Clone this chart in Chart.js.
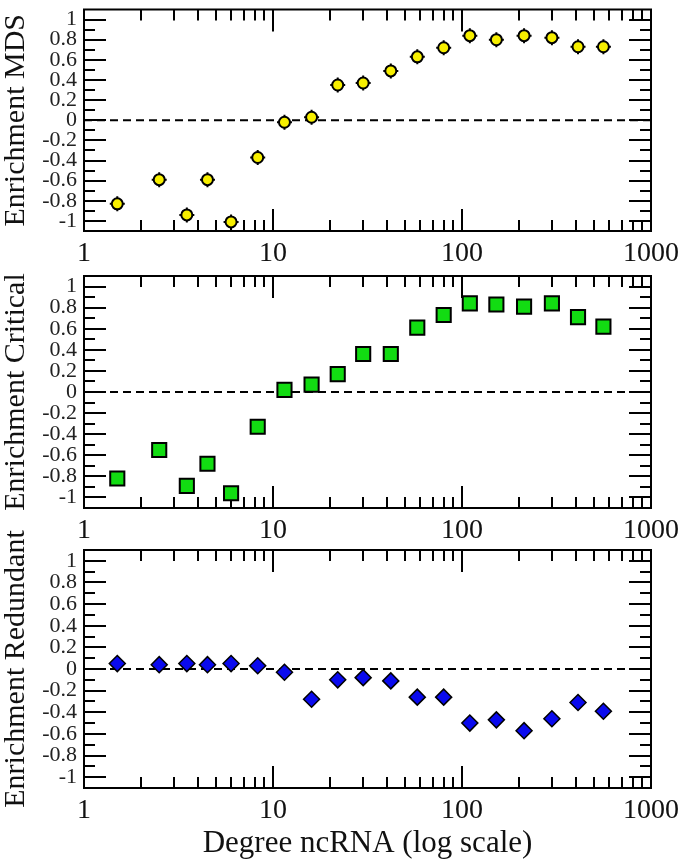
<!DOCTYPE html>
<html>
<head>
<meta charset="utf-8">
<script src="https://cdn.jsdelivr.net/npm/chart.js@4"></script>
<style>
  body { margin: 0; background: #fff; }
  #wrap { position: relative; width: 685px; height: 864px; }
  #wrap canvas { position: absolute; left: 0; top: 0; }
</style>
</head>
<body>
<div id="wrap">
  <canvas id="mds" width="685" height="864"></canvas>
  <canvas id="critical" width="685" height="864"></canvas>
  <canvas id="redundant" width="685" height="864"></canvas>
</div>
<script>
// degree bins (x, log scale) shared by the three panels
let degree = [1.5, 2.5, 3.5, 4.5, 6, 8.3, 11.5, 16, 22, 30, 42, 58, 80, 110, 152, 213, 299, 411, 560]
let mds = [-0.83, -0.59, -0.94, -0.59, -1.01, -0.37, -0.02, 0.03, 0.35, 0.37, 0.49, 0.63, 0.72, 0.84, 0.80, 0.84, 0.82, 0.73, 0.73]
let critical = [-0.82, -0.55, -0.89, -0.68, -0.96, -0.33, 0.02, 0.07, 0.17, 0.36, 0.36, 0.61, 0.73, 0.84, 0.83, 0.81, 0.84, 0.71, 0.62]
let redundant = [0.05, 0.04, 0.05, 0.04, 0.05, 0.03, -0.03, -0.28, -0.10, -0.08, -0.11, -0.26, -0.26, -0.50, -0.47, -0.57, -0.46, -0.31, -0.39]

let xTicks = [1, 10, 100, 1000]
let xMinor = [2, 3, 4, 5, 6, 7, 8, 9, 20, 30, 40, 50, 60, 70, 80, 90, 200, 300, 400, 500, 600, 700, 800, 900]
let yTicks = [-1, -0.8, -0.6, -0.4, -0.2, 0, 0.2, 0.4, 0.6, 0.8, 1]
let yMinor = [-0.9, -0.7, -0.5, -0.3, -0.1, 0.1, 0.3, 0.5, 0.7, 0.9]

const serif = 'Liberation Serif'

function toPoints(vals) {
    return vals.map((v, i) => ({x: degree[i], y: v}))
}

// frame + inward ticks on all four sides, like the xmgrace original
const frameTicks = {
    id: 'frameTicks',
    beforeDatasetsDraw(chart) {
        const {ctx, chartArea: a, scales: {x, y}} = chart
        ctx.save()
        ctx.strokeStyle = '#000'
        ctx.lineWidth = 2
        ctx.beginPath()
        const ytick = (v, len) => {
            const p = Math.round(y.getPixelForValue(v))
            ctx.moveTo(a.left, p); ctx.lineTo(a.left + len, p)
            ctx.moveTo(a.right, p); ctx.lineTo(a.right - len, p)
        }
        const xtick = (v, len) => {
            const p = Math.round(x.getPixelForValue(v))
            ctx.moveTo(p, a.top); ctx.lineTo(p, a.top + len)
            ctx.moveTo(p, a.bottom); ctx.lineTo(p, a.bottom - len)
        }
        yTicks.forEach(v => ytick(v, 22))
        yMinor.forEach(v => ytick(v, 11))
        xTicks.forEach(v => xtick(v, 22))
        xMinor.forEach(v => xtick(v, 11))
        ctx.stroke()
        ctx.strokeRect(a.left, a.top, a.right - a.left, a.bottom - a.top)
        ctx.restore()
    },
    afterDraw(chart, args, opts) {
        // rotated y title, allowed to overflow the panel height
        const {ctx, chartArea: a} = chart
        ctx.save()
        ctx.translate(16, (a.top + a.bottom) / 2)
        ctx.rotate(-Math.PI / 2)
        ctx.font = '30px "' + serif + '"'
        ctx.fillStyle = '#111'
        ctx.textAlign = 'center'
        ctx.textBaseline = 'middle'
        ctx.fillText(opts.title, 0, 0)
        ctx.restore()
    }
}

function makePanel(id, title, vals, marker, top, bottom, xTitle) {
    const axisH = xTitle ? 864 - bottom : 40
    const datasets = [{
        type: 'line',
        data: [{x: xTicks[0], y: 0}, {x: xTicks[xTicks.length - 1], y: 0}],
        borderColor: '#000',
        borderWidth: 2,
        borderDash: [8, 5],
        pointRadius: 0,
        order: 3
    }]
    if (marker.cross) {
        datasets.push({
            data: toPoints(vals),
            pointStyle: 'cross',
            pointRadius: 7.5,
            borderColor: '#000',
            borderWidth: 2,
            order: 2
        })
    }
    datasets.push({
        data: toPoints(vals),
        pointStyle: marker.style,
        pointRadius: marker.radius,
        backgroundColor: marker.color,
        borderColor: '#000',
        borderWidth: marker.border,
        order: 1
    })
    return new Chart(document.getElementById(id), {
        type: 'scatter',
        data: {datasets: datasets},
        options: {
            responsive: false,
            animation: false,
            events: [],
            layout: {padding: {top: top, bottom: 864 - bottom - axisH, left: 0, right: 34}},
            plugins: {
                legend: {display: false},
                tooltip: {enabled: false},
                frameTicks: {title: title}
            },
            scales: {
                x: {
                    type: 'logarithmic',
                    min: 1,
                    max: 1000,
                    grid: {display: false, drawTicks: false},
                    border: {display: false},
                    afterBuildTicks: s => { s.ticks = xTicks.map(v => ({value: v})) },
                    afterFit: s => { s.height = axisH; s.paddingLeft = 0; s.paddingRight = 0 },
                    ticks: {
                        autoSkip: false,
                        maxRotation: 0,
                        padding: 9,
                        color: '#111',
                        font: {family: serif, size: 28, lineHeight: 1},
                        callback: v => String(v)
                    },
                    title: {
                        display: !!xTitle,
                        text: xTitle || '',
                        color: '#111',
                        font: {family: serif, size: 31, lineHeight: 1},
                        padding: {top: 0, bottom: 5}
                    }
                },
                y: {
                    min: -1.1,
                    max: 1.1,
                    grid: {display: false, drawTicks: false},
                    border: {display: false},
                    afterBuildTicks: s => { s.ticks = yTicks.map(v => ({value: v})) },
                    afterFit: s => { s.width = 84; s.paddingTop = 0; s.paddingBottom = 0 },
                    ticks: {
                        autoSkip: false,
                        padding: 7,
                        color: '#222',
                        font: {family: serif, size: 22, lineHeight: 1},
                        callback: v => String(Math.round(v * 10) / 10)
                    }
                }
            }
        },
        plugins: [frameTicks]
    })
}

makePanel('mds', 'Enrichment MDS', mds,
    {style: 'circle', radius: 5.5, color: '#f7ef00', border: 2, cross: true}, 3, 231)
makePanel('critical', 'Enrichment Critical', critical,
    {style: 'rect', radius: 10, color: '#12dc12', border: 2}, 276, 508)
makePanel('redundant', 'Enrichment Redundant', redundant,
    {style: 'rectRot', radius: 8, color: '#0a0aee', border: 1.5}, 550, 788, 'Degree ncRNA (log scale)')
</script>
</body>
</html>
